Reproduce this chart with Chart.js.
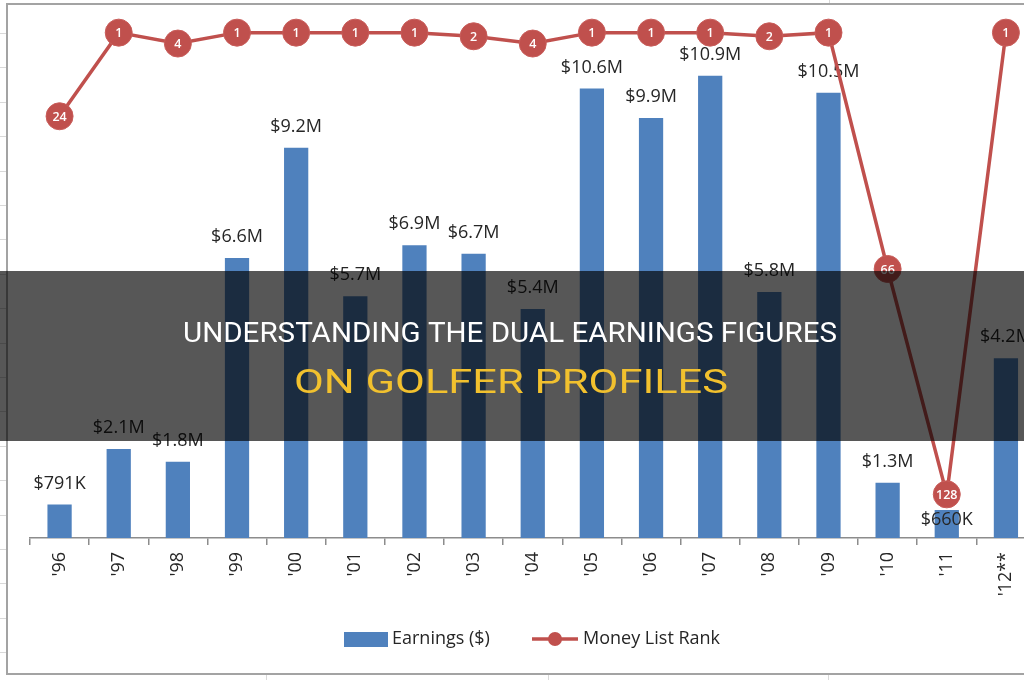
<!DOCTYPE html>
<html>
<head>
<meta charset="utf-8">
<title>Earnings and Money List Rank</title>
<script src="https://cdn.jsdelivr.net/npm/chart.js@4.4.1/dist/chart.umd.min.js"></script>
<style>
  html, body { margin: 0; padding: 0; background: #fff; overflow: hidden; }
  #wrap { position: absolute; left: 0; top: 0; width: 1050px; height: 680px; }
</style>
</head>
<body>
<div id="wrap"><canvas id="chart" width="1050" height="680"></canvas></div>
<script>
// season labels on the category axis
const years = ["'96", "'97", "'98", "'99", "'00", "'01", "'02", "'03", "'04",
  "'05", "'06", "'07", "'08", "'09", "'10", "'11", "'12**"];

// earnings in millions of dollars
const earnings = [0.791, 2.1, 1.8, 6.6, 9.2, 5.7, 6.9, 6.7, 5.4,
  10.6, 9.9, 10.9, 5.8, 10.5, 1.3, 0.66, 4.24];

const earningLabels = ["$791K", "$2.1M", "$1.8M", "$6.6M", "$9.2M", "$5.7M", "$6.9M",
  "$6.7M", "$5.4M", "$10.6M", "$9.9M", "$10.9M", "$5.8M", "$10.5M", "$1.3M", "$660K", "$4.2M"];

// money list rank (secondary axis, reversed)
const ranks = [24, 1, 4, 1, 1, 1, 1, 2, 4, 1, 1, 1, 2, 1, 66, 128, 1];

const seriesNames = ["Earnings ($)", "Money List Rank"];
const titleLines = ["UNDERSTANDING THE DUAL EARNINGS FIGURES", "ON GOLFER PROFILES"];

const BLUE = "#4f81bd";
const RED = "#c0504d";
const TEXT = "#262626";
const LABEL_FONT = "18px 'Open Sans'";

// sheet background, gridlines of the worksheet and the chart frame
const sheetBackground = {
  id: "sheetBackground",
  beforeDraw(chart) {
    const ctx = chart.ctx;
    ctx.save();
    ctx.fillStyle = "#fff";
    ctx.fillRect(0, 0, chart.width, chart.height);
    ctx.strokeStyle = "#d9d9d9";
    ctx.lineWidth = 1;
    for (let y = 33; y < 680; y += 34.4) {
      ctx.beginPath();
      ctx.moveTo(0, Math.round(y) + 0.5);
      ctx.lineTo(6, Math.round(y) + 0.5);
      ctx.stroke();
    }
    [[829.5, 0, 4], [266.5, 675, 680], [548.5, 675, 680], [828.5, 675, 680]].forEach(([x, a, b]) => {
      ctx.beginPath();
      ctx.moveTo(x, a);
      ctx.lineTo(x, b);
      ctx.stroke();
    });
    ctx.strokeStyle = "#a3a3a3";
    ctx.lineWidth = 2;
    ctx.strokeRect(7, 4, 1200, 670);
    ctx.restore();
  }
};

// value labels above the bars, drawn before the line so it passes over them
const barLabels = {
  id: "barLabels",
  afterDatasetDraw(chart, args) {
    if (args.index !== 0) return;
    const ctx = chart.ctx;
    const bars = chart.getDatasetMeta(0).data;
    const pts = chart.getDatasetMeta(1).data;
    ctx.save();
    ctx.font = LABEL_FONT;
    ctx.fillStyle = TEXT;
    ctx.textAlign = "center";
    ctx.textBaseline = "middle";
    bars.forEach((bar, i) => {
      let y = bar.y - 21;
      // Excel pushed the label under the rank marker where they would clash
      if (pts[i] && pts[i].y > bar.y - 30) y = pts[i].y + 26;
      ctx.fillText(earningLabels[i], bar.x, y);
    });
    ctx.restore();
  }
};

// rank numbers inside the markers, legend and the title banner
const overlays = {
  id: "overlays",
  afterDatasetsDraw(chart) {
    const ctx = chart.ctx;
    const pts = chart.getDatasetMeta(1).data;
    ctx.save();
    ctx.font = "600 12.5px 'Open Sans'";
    ctx.fillStyle = "#fff";
    ctx.textAlign = "center";
    ctx.textBaseline = "middle";
    pts.forEach((p, i) => ctx.fillText(String(ranks[i]), p.x, p.y + 1));
    ctx.restore();
  },
  afterDraw(chart) {
    const ctx = chart.ctx;
    ctx.save();
    // legend
    ctx.fillStyle = BLUE;
    ctx.fillRect(344, 632, 44, 15);
    ctx.font = LABEL_FONT;
    ctx.fillStyle = TEXT;
    ctx.textAlign = "left";
    ctx.textBaseline = "middle";
    ctx.fillText(seriesNames[0], 392, 639);
    ctx.strokeStyle = RED;
    ctx.lineWidth = 3.5;
    ctx.beginPath();
    ctx.moveTo(532, 639);
    ctx.lineTo(578, 639);
    ctx.stroke();
    ctx.fillStyle = RED;
    ctx.beginPath();
    ctx.arc(555, 639, 7, 0, Math.PI * 2);
    ctx.fill();
    ctx.fillStyle = TEXT;
    ctx.fillText(seriesNames[1], 583, 639);

    // banner
    ctx.fillStyle = "rgba(0,0,0,0.66)";
    ctx.fillRect(0, 271, chart.width, 170);
    const drawFitted = (text, font, color, cx, base, w) => {
      ctx.font = font;
      const m = ctx.measureText(text).width;
      ctx.save();
      ctx.translate(cx, base);
      ctx.scale(w / m, 1);
      ctx.fillStyle = color;
      ctx.textAlign = "center";
      ctx.textBaseline = "alphabetic";
      ctx.fillText(text, 0, 0);
      ctx.restore();
    };
    drawFitted(titleLines[0], "27px Roboto", "#ffffff", 510, 342, 654);
    drawFitted(titleLines[1], "34px Roboto", "#f2c12e", 511, 393, 434);
    ctx.restore();
  }
};

new Chart(document.getElementById("chart"), {
  data: {
    labels: years,
    datasets: [
      {
        type: "bar",
        label: seriesNames[0],
        data: earnings,
        backgroundColor: BLUE,
        yAxisID: "y",
        categoryPercentage: 1.0,
        barPercentage: 0.41,
        order: 1
      },
      {
        type: "line",
        label: seriesNames[1],
        data: ranks,
        borderColor: RED,
        borderWidth: 3.5,
        pointRadius: 13.5,
        pointBackgroundColor: RED,
        pointBorderColor: "#c95d5a",
        pointBorderWidth: 1,
        tension: 0,
        clip: false,
        yAxisID: "y1",
        order: 0
      }
    ]
  },
  options: {
    responsive: false,
    animation: false,
    layout: { padding: { top: 29, left: 30, right: 12, bottom: 0 } },
    plugins: {
      legend: { display: false },
      tooltip: { enabled: false }
    },
    scales: {
      x: {
        offset: true,
        grid: {
          offset: true,
          drawOnChartArea: false,
          drawTicks: true,
          tickLength: 7,
          color: "#8c8c8c",
          lineWidth: 1.5
        },
        border: { color: "#8c8c8c", width: 1.5 },
        ticks: {
          minRotation: 90,
          maxRotation: 90,
          padding: 7,
          color: TEXT,
          font: { family: "Open Sans", size: 18 }
        },
        afterFit(scale) { scale.height = 142; }
      },
      y: {
        display: false,
        position: "left",
        min: 0,
        max: 12
      },
      y1: {
        display: false,
        position: "right",
        reverse: true,
        min: 0,
        max: 140
      }
    }
  },
  plugins: [sheetBackground, barLabels, overlays]
});
</script>
</body>
</html>
